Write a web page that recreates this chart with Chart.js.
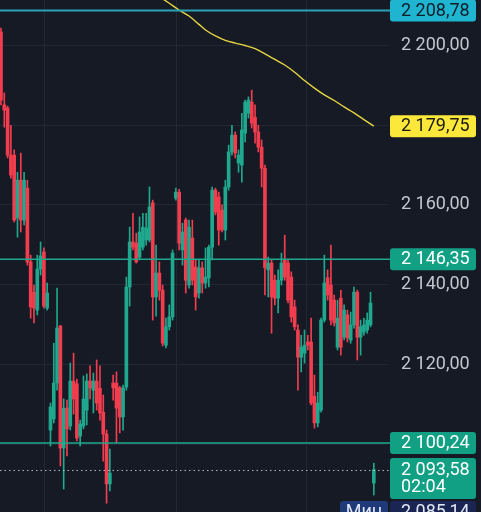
<!DOCTYPE html>
<html><head><meta charset="utf-8">
<script src="https://cdn.jsdelivr.net/npm/chart.js@4.4.1/dist/chart.umd.min.js"></script>
<style>html,body{margin:0;padding:0;background:#161a25;overflow:hidden}canvas{display:block}</style>
</head><body>
<canvas id="c" width="481" height="512"></canvas>
<script>
// ---- data (prices) ----
const candleOpen = [2203.4,2185.1,2184.3,2172.5,2172.5,2156.7,2166.2,2156.2,2164.2,2145.7, 2138.1,2133.6,2143.9,2148.2,2134.1,2103.5,2106.3,2115.3,2129.6,2099.0, 2109.0,2104.5,2115.8,2115.1,2102.0,2104.5,2108.5,2115.8,2113.5,2115.8, 2114.0,2108.0,2102.5,2090.0,2115.3,2115.3,2114.1,2106.8,2114.3,2139.4, 2150.7,2150.4,2146.9,2149.4,2151.2,2151.2,2160.5,2136.9,2142.9,2138.6, 2124.8,2129.4,2131.9,2161.7,2163.2,2148.7,2156.2,2139.9,2151.7,2144.4, 2137.9,2144.2,2140.4,2141.7,2149.4,2163.7,2162.0,2158.7,2153.7,2164.5, 2173.3,2177.5,2170.5,2170.0,2178.0,2183.0,2185.8,2182.0,2178.3,2174.5, 2169.2,2143.7,2145.4,2141.1,2136.6,2141.1,2146.2,2145.4,2141.9,2134.4, 2128.6,2121.8,2122.8,2125.6,2125.6,2112.0,2105.3,2108.5,2131.1,2141.7, 2139.9,2136.1,2124.3,2136.6,2126.8,2132.4,2126.1,2129.9,2138.1,2126.8, 2128.1,2128.6,2129.9,2090.2];
const candleHigh = [2204.4,2188.1,2184.8,2180.0,2173.8,2168.2,2173.0,2168.2,2166.2,2147.4, 2139.9,2147.4,2150.7,2149.2,2140.4,2110.3,2125.3,2139.1,2129.8,2111.3, 2111.0,2120.3,2122.8,2116.3,2106.0,2117.1,2117.6,2119.6,2117.8,2121.1, 2119.6,2112.3,2103.5,2098.7,2117.3,2118.1,2114.5,2114.8,2141.9,2154.4, 2157.9,2152.9,2157.0,2157.9,2157.9,2164.5,2161.2,2149.9,2145.7,2139.9, 2131.6,2134.9,2148.7,2164.2,2163.9,2155.4,2156.7,2156.2,2156.2,2146.2, 2146.2,2145.7,2149.2,2149.9,2164.5,2164.2,2163.2,2160.0,2166.2,2175.0, 2180.0,2178.3,2173.8,2183.0,2186.3,2187.1,2188.8,2185.1,2180.0,2176.3, 2170.0,2146.9,2146.2,2142.4,2143.7,2147.9,2152.4,2146.2,2143.2,2136.1, 2129.9,2127.3,2128.6,2127.3,2131.6,2117.3,2113.0,2131.6,2147.4,2143.7, 2149.9,2137.4,2136.1,2138.6,2134.9,2133.6,2133.1,2139.4,2138.6,2131.1, 2131.6,2132.9,2138.1,2095.2];
const candleLow = [2185.1,2179.5,2171.8,2166.7,2155.7,2151.9,2153.2,2155.0,2144.9,2131.6, 2130.4,2132.4,2142.4,2134.1,2133.6,2099.5,2105.3,2113.5,2094.5,2088.7, 2097.0,2103.5,2107.5,2100.8,2099.5,2103.8,2104.8,2111.3,2107.8,2108.5, 2106.0,2095.7,2085.14,2088.2,2111.0,2100.3,2102.8,2103.5,2113.5,2134.6, 2148.7,2145.4,2146.2,2148.7,2149.9,2150.7,2131.1,2132.1,2136.1,2124.6, 2124.1,2128.6,2131.1,2161.2,2148.7,2144.9,2137.9,2139.1,2139.9,2133.6, 2136.6,2137.9,2139.1,2139.4,2146.2,2157.5,2149.9,2153.2,2151.2,2163.7, 2172.5,2171.8,2168.2,2165.7,2175.8,2181.8,2179.3,2175.5,2173.3,2164.5, 2137.4,2136.9,2127.8,2134.9,2132.9,2139.9,2141.1,2135.4,2130.6,2128.6, 2113.5,2118.1,2120.3,2123.6,2109.8,2104.0,2104.3,2108.0,2130.6,2136.1, 2129.9,2129.6,2123.6,2122.3,2126.1,2125.6,2125.3,2129.1,2121.1,2122.3, 2127.3,2127.8,2129.4,2087.2];
const candleClose = [2186.3,2183.8,2172.5,2167.5,2156.2,2166.2,2156.2,2166.2,2145.7,2134.4, 2134.1,2143.9,2147.2,2134.6,2137.9,2109.3,2115.3,2129.1,2099.0,2109.0, 2103.8,2115.8,2111.3,2101.5,2105.0,2111.3,2115.8,2114.1,2115.8,2110.3, 2107.8,2102.5,2090.0,2092.7,2114.1,2109.0,2106.8,2114.1,2139.4,2150.7, 2149.4,2145.7,2153.2,2154.4,2154.2,2159.5,2136.9,2142.9,2138.6,2125.3, 2129.4,2131.9,2147.9,2163.2,2150.4,2153.2,2141.1,2154.4,2141.1,2136.9, 2144.2,2140.4,2141.9,2149.4,2163.7,2158.2,2153.7,2153.7,2164.5,2173.3, 2177.5,2173.0,2172.5,2178.8,2185.8,2186.3,2180.5,2178.3,2174.5,2169.2, 2144.2,2145.4,2136.9,2136.6,2141.1,2145.4,2141.9,2136.1,2131.9,2129.4, 2121.8,2124.3,2124.8,2124.8,2110.3,2105.3,2110.3,2131.1,2140.4,2137.4, 2131.1,2130.4,2131.6,2124.3,2133.6,2126.6,2129.9,2138.1,2126.8,2129.4, 2129.9,2131.1,2135.4,2093.58];

// moving average line (yellow), read at candle indices
const maIndex = [48,51,54,57,60,62,65,68,71,74,77,80,83,86,89,92,95,98,101,104,107,110,113];
const maValue = [2212.3,2210.6,2208.9,2207.4,2205.3,2203.9,2202.4,2201.3,2200.6,2200.0,2199.2,2197.9,2196.5,2195.1,2193.3,2191.2,2189.3,2187.6,2186.2,2184.6,2183.1,2181.4,2179.75];

const yTicks = [2100, 2120, 2140, 2160, 2180, 2200];
const timeGridIndex = [13.3, 53.3, 92.7];
const levelTop = 2208.78;      // cyan line
const levelMid = 2146.35;      // green line
const levelLow = 2100.24;      // green line
const lastPrice = 2093.58;     // dotted line
const lastTimer = '02:04';
const minPrice = 2085.14;
const minLabel = 'Мин';
const maLast = 2179.75;

// ---- styles ----
const BG = '#161a25', GRID = '#232734';
const UP = '#1fa88e', DOWN = '#f23d4f';
const FONT = '18px Roboto';

function fmt(v){
  let [i,d] = v.toFixed(2).split('.');
  i = i.replace(/\B(?=(\d{3})+(?!\d))/g, ' ');
  return i + ',' + d;
}

const idx = candleOpen.map((_, i) => i);
const colors = idx.map(i => candleClose[i] >= candleOpen[i] ? UP : DOWN);
const bodyData = idx.map(i => ({x: i, y: [candleOpen[i], candleClose[i]]}));
const wickData = idx.map(i => ({x: i, y: [candleLow[i], candleHigh[i]]}));
const maData = maIndex.map((x, k) => ({x, y: maValue[k]}));

function box(ctx, x, y, w, h, r, fill){
  ctx.fillStyle = fill;
  ctx.beginPath();
  ctx.moveTo(x + r, y);
  ctx.lineTo(x + w - r, y); ctx.quadraticCurveTo(x + w, y, x + w, y + r);
  ctx.lineTo(x + w, y + h - r); ctx.quadraticCurveTo(x + w, y + h, x + w - r, y + h);
  ctx.lineTo(x + r, y + h); ctx.quadraticCurveTo(x, y + h, x, y + h - r);
  ctx.lineTo(x, y + r); ctx.quadraticCurveTo(x, y, x + r, y);
  ctx.closePath(); ctx.fill();
}

const overlay = {
  id: 'overlay',
  beforeDraw(chart){
    const c = chart.ctx; c.save(); c.fillStyle = BG; c.fillRect(0,0,chart.width,chart.height); c.restore();
  },
  afterDatasetsDraw(chart){
    const {ctx, chartArea: a, scales: {y}} = chart;
    const xEnd = a.right + 2;
    ctx.save();
    const lines = [[levelTop, '#2aa2b6', 2], [levelMid, '#1fa88e', 1.6], [levelLow, '#1fa88e', 1.6]];
    for (const [v, col, w] of lines){
      const py = y.getPixelForValue(v);
      ctx.strokeStyle = col; ctx.lineWidth = w;
      ctx.beginPath(); ctx.moveTo(a.left, py); ctx.lineTo(xEnd, py); ctx.stroke();
    }
    const pl = Math.round(y.getPixelForValue(lastPrice)) + 0.5;
    ctx.strokeStyle = 'rgba(205,212,222,0.85)'; ctx.lineWidth = 1; ctx.setLineDash([1.5, 3]);
    ctx.beginPath(); ctx.moveTo(a.left, pl); ctx.lineTo(xEnd, pl); ctx.stroke();
    ctx.restore();
  },
  afterDraw(chart){
    const {ctx, chartArea: a, scales: {y}} = chart;
    const bx = a.right + 2, bw = 86, bh = 22, tx = bx + 11;
    ctx.save();
    ctx.font = FONT; ctx.textBaseline = 'middle'; ctx.textAlign = 'left';
    const tag = (v, fill, txt) => {
      const py = y.getPixelForValue(v);
      box(ctx, bx, py - bh/2, bw, bh, 3, fill);
      ctx.fillStyle = txt; ctx.fillText(fmt(v), tx, py + 0.5);
    };
    tag(levelTop, '#1fb4d0', '#0f1c28');
    tag(maLast, '#fbe83b', '#1a1a12');
    tag(levelMid, '#12a085', '#ffffff');
    tag(levelLow, '#12a085', '#ffffff');
    // last price with timer
    const pl = y.getPixelForValue(lastPrice);
    const top = pl - 11.5, h2 = 41;
    box(ctx, bx, top, bw, h2, 3, '#12a085');
    ctx.fillStyle = '#ffffff';
    ctx.fillText(fmt(lastPrice), tx, pl + 0.5);
    ctx.fillText(lastTimer, tx, pl + 17.5);
    // minimum label (pushed below the last-price tag)
    const pm = y.getPixelForValue(minPrice);
    const mt = Math.max(pm - bh/2, top + h2 + 2);
    box(ctx, bx, mt, bw, bh, 3, '#1a2553');
    box(ctx, bx - 50, mt, 48, bh, 3, '#1e3a78');
    ctx.fillStyle = '#e3e8f5';
    ctx.fillText(fmt(minPrice), tx, mt + bh/2 + 0.5);
    ctx.textAlign = 'center';
    ctx.fillText(minLabel, bx - 26, mt + bh/2 + 0.5);
    ctx.restore();
  }
};

new Chart(document.getElementById('c'), {
  type: 'bar',
  data: {
    datasets: [
      {type: 'line', data: maData, borderColor: '#e6d543', borderWidth: 1.4, pointRadius: 0, tension: 0.35, order: 0},
      {data: bodyData, backgroundColor: colors, barThickness: 3, minBarLength: 1, grouped: false, order: 1},
      {data: wickData, backgroundColor: colors, barThickness: 1, grouped: false, order: 2}
    ]
  },
  options: {
    responsive: false, animation: false, devicePixelRatio: 1,
    layout: {padding: 0},
    plugins: {legend: {display: false}, tooltip: {enabled: false}},
    scales: {
      x: {
        type: 'linear', min: -0.3, max: 117.3, offset: false,
        grid: {color: GRID, drawTicks: false, offset: false},
        border: {display: false},
        ticks: {display: false},
        afterBuildTicks: s => { s.ticks = timeGridIndex.map(v => ({value: v})); },
        afterFit: s => { s.height = 0; s.paddingLeft = 0; s.paddingRight = 0; }
      },
      y: {
        type: 'linear', position: 'right', min: 2082.94, max: 2211.42,
        grid: {color: GRID, drawTicks: false},
        border: {display: false},
        ticks: {color: '#c3c6ce', font: {family: 'Roboto', size: 18}, padding: 13, callback: v => fmt(v)},
        afterBuildTicks: s => { s.ticks = yTicks.map(v => ({value: v})); },
        afterFit: s => { s.width = 93; s.paddingTop = 0; s.paddingBottom = 0; }
      }
    }
  },
  plugins: [overlay]
});
</script>
</body></html>
